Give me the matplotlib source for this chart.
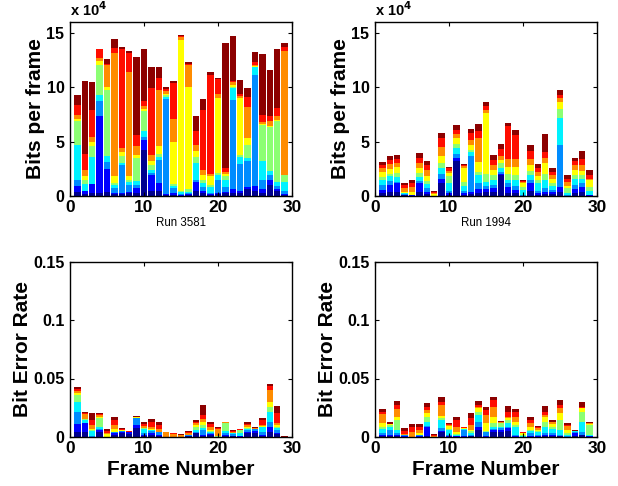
import numpy as np
import matplotlib
matplotlib.use("Agg")
import matplotlib.pyplot as plt

plt.rcParams['font.family'] = ['Liberation Sans', 'DejaVu Sans']
plt.rcParams['mathtext.default'] = 'bf'

frames = list(range(1, 30))
# cumulative tops of the 9 stacked colour levels (navy .. dark red)
# Bits per frame, units of 1e4 bits
run3581_bits_1e4 = [
    [0.4, 0.9, 1.5, 4.7, 6.9, 7.1, 7.4, 8.35, 9.3],
    [0.2, 0.5, 0.5, 1.1, 1.5, 1.8, 2.4, 3.9, 10.55],
    [0.3, 1.1, 1.13, 3.6, 4.6, 5.0, 5.45, 7.9, 10.43],
    [0.3, 7.3, 8.7, 9.3, 12.0, 12.4, 12.7, 13.45, 13.5],
    [0.4, 2.5, 3.1, 3.7, 9.7, 10.0, 12.0, 12.1, 12.6],
    [0.2, 0.3, 0.7, 1.0, 1.2, 1.8, 13.1, 13.6, 14.45],
    [0.2, 0.3, 2.85, 3.0, 3.7, 4.0, 4.4, 13.5, 13.7],
    [0.3, 0.4, 1.0, 1.3, 1.5, 1.8, 11.4, 13.1, 13.3],
    [0.3, 0.7, 1.0, 1.4, 3.5, 3.8, 4.6, 5.6, 12.8],
    [4.2, 5.1, 5.4, 6.0, 7.8, 8.0, 8.3, 8.7, 13.45],
    [0.5, 1.9, 2.1, 2.4, 2.8, 3.2, 3.8, 9.88, 11.8],
    [0.5, 1.2, 3.3, 3.6, 3.9, 4.6, 9.7, 10.85, 11.8],
    [0.1, 0.2, 8.9, 9.1, 9.3, 9.4, 9.6, 9.85, 10.0],
    [0.1, 0.3, 0.7, 0.9, 1.1, 5.0, 7.1, 10.35, 10.6],
    [0.0, 0.05, 0.2, 0.35, 0.5, 14.35, 14.6, 14.65, 14.8],
    [0.1, 0.2, 0.3, 0.4, 0.65, 10.0, 12.0, 12.1, 12.3],
    [0.5, 1.3, 1.5, 3.0, 3.6, 4.1, 4.7, 6.0, 7.3],
    [0.3, 0.45, 0.8, 1.2, 1.5, 1.9, 2.4, 7.9, 8.87],
    [0.1, 0.2, 0.3, 0.8, 1.0, 1.8, 2.0, 11.1, 11.4],
    [0.2, 0.3, 1.5, 1.9, 2.1, 9.0, 9.4, 10.7, 10.85],
    [0.3, 0.4, 0.8, 1.5, 1.8, 2.0, 2.2, 2.55, 14.05],
    [0.3, 0.6, 8.8, 9.9, 10.0, 10.2, 10.5, 10.6, 14.65],
    [0.3, 0.5, 2.9, 3.6, 3.8, 9.0, 9.2, 9.4, 10.64],
    [0.6, 0.8, 3.2, 3.5, 4.7, 5.3, 8.2, 9.1, 9.88],
    [0.5, 0.9, 11.1, 11.8, 11.85, 11.9, 12.0, 12.3, 13.23],
    [0.3, 0.6, 1.5, 3.2, 6.5, 6.6, 6.8, 7.44, 13.0],
    [1.0, 1.5, 1.9, 2.3, 6.3, 6.4, 6.9, 7.3, 11.6],
    [0.5, 0.6, 0.9, 1.3, 6.9, 7.0, 7.3, 8.05, 13.47],
    [0.1, 0.2, 0.5, 1.3, 1.9, 1.95, 13.3, 13.7, 14.0],
]
run1994_bits_1e4 = [
    [0.25, 0.55, 1.0, 1.5, 1.77, 2.2, 2.53, 2.84, 3.14],
    [0.4, 1.0, 1.4, 1.8, 2.0, 2.5, 2.9, 3.3, 3.69],
    [0.4, 1.16, 1.31, 1.77, 2.1, 2.68, 3.0, 3.38, 3.8],
    [0.05, 0.1, 0.15, 0.25, 0.3, 0.35, 0.7, 1.0, 1.22],
    [0.03, 0.07, 0.08, 0.09, 0.1, 0.4, 0.85, 1.16, 1.46],
    [0.4, 1.2, 1.4, 1.7, 2.1, 2.6, 3.0, 3.5, 3.93],
    [0.2, 0.4, 0.7, 1.1, 1.4, 1.8, 2.4, 2.84, 3.23],
    [0.0, 0.0, 0.0, 0.0, 0.02, 0.15, 0.25, 0.35, 0.46],
    [1.16, 1.6, 2.0, 2.6, 3.0, 3.7, 4.5, 5.3, 5.82],
    [0.1, 0.3, 0.5, 1.2, 1.8, 2.1, 2.3, 2.53, 2.68],
    [3.2, 3.5, 3.9, 4.4, 4.8, 5.3, 5.7, 6.1, 6.5],
    [0.1, 0.25, 0.5, 0.9, 1.3, 2.6, 2.75, 2.8, 2.9],
    [0.15, 0.4, 3.7, 4.0, 4.2, 4.66, 5.1, 5.8, 6.13],
    [0.3, 0.6, 1.2, 1.9, 2.2, 3.1, 5.3, 6.0, 6.6],
    [0.35, 0.6, 0.9, 1.3, 2.0, 7.6, 7.9, 8.23, 8.63],
    [0.4, 0.7, 1.0, 1.5, 1.92, 2.4, 2.8, 3.3, 3.75],
    [1.9, 2.0, 2.2, 2.6, 3.0, 3.3, 3.7, 4.3, 4.73],
    [0.3, 0.85, 1.16, 1.5, 2.0, 2.68, 3.44, 6.4, 6.74],
    [0.25, 0.55, 0.9, 1.5, 1.9, 2.7, 3.4, 5.58, 6.04],
    [0.0, 0.02, 0.05, 0.55, 0.85, 1.16, 1.25, 1.35, 1.46],
    [0.5, 1.2, 1.5, 1.9, 2.3, 2.84, 3.44, 4.1, 4.66],
    [0.1, 0.3, 0.5, 1.2, 1.5, 1.8, 2.2, 2.6, 2.93],
    [0.15, 0.4, 0.7, 1.5, 2.0, 3.0, 3.5, 4.05, 5.67],
    [0.2, 0.35, 0.55, 0.9, 1.2, 1.6, 1.9, 2.23, 2.53],
    [0.4, 0.85, 4.7, 7.2, 8.0, 8.63, 9.0, 9.3, 9.76],
    [0.0, 0.02, 0.05, 0.3, 0.7, 0.9, 1.3, 1.6, 1.92],
    [0.3, 0.65, 1.0, 1.6, 1.9, 2.4, 2.8, 3.2, 3.5],
    [0.35, 0.85, 1.2, 1.6, 1.9, 2.3, 2.84, 3.44, 4.14],
    [0.02, 0.05, 0.1, 0.5, 0.85, 1.46, 1.6, 1.92, 2.38],
]
# Bit error rate
run3581_ber = [
    [0.0043, 0.0114, 0.0214, 0.030, 0.0357, 0.038, 0.039, 0.041, 0.0429],
    [0.0043, 0.0117, 0.012, 0.0146, 0.015, 0.0157, 0.020, 0.0205, 0.0214],
    [0.0, 0.0, 0.001, 0.005, 0.006, 0.0071, 0.0100, 0.0146, 0.0209],
    [0.004, 0.006, 0.0065, 0.0089, 0.016, 0.0175, 0.019, 0.020, 0.0209],
    [0.0, 0.0, 0.0, 0.0, 0.0003, 0.0023, 0.0031, 0.0051, 0.0066],
    [0.002, 0.0035, 0.0043, 0.0045, 0.0046, 0.0066, 0.0103, 0.0146, 0.0174],
    [0.003, 0.0046, 0.005, 0.0052, 0.0054, 0.0056, 0.006, 0.0066, 0.0074],
    [0.0025, 0.004, 0.0041, 0.0042, 0.0043, 0.0044, 0.0045, 0.0048, 0.0051],
    [0.0074, 0.0103, 0.0163, 0.0165, 0.0166, 0.0167, 0.0168, 0.017, 0.018],
    [0.0005, 0.0015, 0.0031, 0.0066, 0.0074, 0.008, 0.0095, 0.0111, 0.0126],
    [0.0015, 0.003, 0.0055, 0.006, 0.0063, 0.0066, 0.0089, 0.0131, 0.0151],
    [0.0005, 0.0015, 0.004, 0.0042, 0.0044, 0.0046, 0.0066, 0.0103, 0.0126],
    [0.0, 0.0, 0.0, 0.0, 0.0, 0.0001, 0.004, 0.0044, 0.0046],
    [0.0, 0.0, 0.0, 0.0, 0.0, 0.0001, 0.0028, 0.0032, 0.0034],
    [0.0, 0.0, 0.0, 0.0, 0.0, 0.0001, 0.0018, 0.0021, 0.0023],
    [0.0005, 0.0012, 0.0017, 0.0018, 0.0019, 0.002, 0.0035, 0.0045, 0.0051],
    [0.0031, 0.0035, 0.004, 0.006, 0.0085, 0.0103, 0.0117, 0.013, 0.0146],
    [0.001, 0.002, 0.006, 0.0075, 0.0103, 0.0131, 0.0151, 0.0189, 0.0274],
    [0.0015, 0.0025, 0.003, 0.0045, 0.0055, 0.006, 0.0089, 0.0111, 0.0126],
    [0.0, 0.0, 0.0002, 0.0003, 0.0005, 0.0007, 0.0066, 0.008, 0.0089],
    [0.0005, 0.0015, 0.003, 0.0055, 0.0117, 0.0122, 0.0125, 0.0128, 0.0131],
    [0.0005, 0.001, 0.0025, 0.0031, 0.0035, 0.0037, 0.0044, 0.0052, 0.006],
    [0.0002, 0.0005, 0.001, 0.003, 0.0058, 0.006, 0.0062, 0.0065, 0.0069],
    [0.0031, 0.0045, 0.006, 0.0065, 0.008, 0.0089, 0.0103, 0.0115, 0.0126],
    [0.003, 0.0055, 0.0066, 0.0068, 0.007, 0.0071, 0.0073, 0.0077, 0.0083],
    [0.0008, 0.002, 0.0046, 0.0085, 0.0089, 0.0092, 0.0103, 0.0146, 0.016],
    [0.0046, 0.0089, 0.0131, 0.0217, 0.026, 0.0303, 0.0403, 0.0437, 0.0454],
    [0.0026, 0.0035, 0.006, 0.0074, 0.0089, 0.0103, 0.0117, 0.0203, 0.0266],
    [0.0, 0.0, 0.0, 0.0, 0.0, 0.0, 0.0, 0.0003, 0.0006],
]
run1994_ber = [
    [0.0005, 0.0015, 0.0031, 0.0065, 0.0085, 0.0117, 0.020, 0.0211, 0.024],
    [0.0005, 0.0015, 0.006, 0.0085, 0.0105, 0.0108, 0.011, 0.0111, 0.0126],
    [0.0005, 0.0017, 0.003, 0.006, 0.0146, 0.017, 0.024, 0.0274, 0.0309],
    [0.0002, 0.0005, 0.0017, 0.0018, 0.0019, 0.002, 0.0025, 0.0054, 0.0074],
    [0.0, 0.0, 0.0, 0.0, 0.0001, 0.0002, 0.0046, 0.0083, 0.0111],
    [0.0002, 0.0005, 0.0017, 0.0019, 0.002, 0.0031, 0.006, 0.0089, 0.0111],
    [0.001, 0.0083, 0.009, 0.0131, 0.0174, 0.0203, 0.023, 0.026, 0.0289],
    [0.0, 0.0, 0.0, 0.0, 0.0, 0.0, 0.0005, 0.0013, 0.0023],
    [0.0046, 0.0055, 0.0075, 0.0146, 0.016, 0.018, 0.0274, 0.0303, 0.0346],
    [0.0003, 0.0008, 0.0017, 0.006, 0.007, 0.0098, 0.0103, 0.011, 0.0117],
    [0.0002, 0.0005, 0.001, 0.0017, 0.0025, 0.0046, 0.0089, 0.0146, 0.0174],
    [0.0003, 0.001, 0.006, 0.0065, 0.007, 0.0074, 0.0078, 0.0083, 0.0089],
    [0.0005, 0.001, 0.002, 0.0031, 0.005, 0.006, 0.0103, 0.016, 0.0203],
    [0.006, 0.0089, 0.0131, 0.0189, 0.0217, 0.0246, 0.026, 0.0274, 0.0309],
    [0.0003, 0.001, 0.004, 0.0046, 0.005, 0.0117, 0.019, 0.0235, 0.026],
    [0.0045, 0.006, 0.0065, 0.0089, 0.0117, 0.0174, 0.026, 0.0317, 0.034],
    [0.004, 0.006, 0.0075, 0.0089, 0.0117, 0.0123, 0.0128, 0.0132, 0.0137],
    [0.005, 0.0074, 0.0089, 0.0117, 0.0146, 0.016, 0.0174, 0.0217, 0.0266],
    [0.0003, 0.0008, 0.0015, 0.0089, 0.01, 0.0131, 0.0174, 0.0217, 0.024],
    [0.0, 0.0, 0.0002, 0.0005, 0.002, 0.0031, 0.0035, 0.0039, 0.0043],
    [0.0003, 0.001, 0.0031, 0.0055, 0.0062, 0.0089, 0.0117, 0.0146, 0.0174],
    [0.0002, 0.0008, 0.0017, 0.004, 0.0052, 0.006, 0.0075, 0.0085, 0.0094],
    [0.0005, 0.0015, 0.0031, 0.0089, 0.0131, 0.0174, 0.019, 0.0217, 0.0269],
    [0.0005, 0.0015, 0.0031, 0.0065, 0.0089, 0.011, 0.0125, 0.0131, 0.0146],
    [0.0005, 0.0012, 0.0017, 0.006, 0.0146, 0.0203, 0.0246, 0.0274, 0.0317],
    [0.0, 0.0002, 0.0005, 0.0017, 0.003, 0.006, 0.0095, 0.0103, 0.0123],
    [0.001, 0.0035, 0.0046, 0.0048, 0.005, 0.0052, 0.0054, 0.0055, 0.006],
    [0.0017, 0.002, 0.0046, 0.0131, 0.0217, 0.0246, 0.0252, 0.0256, 0.0303],
    [0.0002, 0.0005, 0.0012, 0.0017, 0.0105, 0.0111, 0.0117, 0.0123, 0.0131],
]

bits_ticks = [0, 5, 10, 15]
ber_ticks = [0, 0.05, 0.1, 0.15]
ber_ticklabels = ['0', '0.05', '0.1', '0.15']
x_ticks = [0, 10, 20, 30]
run_labels = ['Run 3581', 'Run 1994']

W, H = 618, 486
fig = plt.figure(figsize=(W / 100, H / 100), dpi=100)
# MATLAB-style jet levels: navy, blue, azure, cyan, light green, yellow, orange, red, dark red
colors = [(0.0, 0.0, 0.56), (0.0, 0.0, 1.0), (0.0, 0.55, 1.0), (0.0, 0.95, 1.0),
          (0.55, 1.0, 0.45), (1.0, 1.0, 0.0), (1.0, 0.55, 0.0), (1.0, 0.05, 0.0),
          (0.55, 0.0, 0.0)]

lefts = [70 / W, 375 / W]
aw = 222 / W
top_b, top_h = (H - 196) / H, (196 - 21.7) / H
bot_b, bot_h = (H - 437) / H, (437 - 261.5) / H


def stacked(ax, cum):
    cum = np.maximum.accumulate(np.asarray(cum, dtype=float), axis=1)
    base = np.hstack([np.zeros((cum.shape[0], 1)), cum[:, :-1]])
    heights = cum - base
    for j in range(cum.shape[1]):
        ax.bar(frames, heights[:, j], bottom=base[:, j], width=0.88,
               color=colors[j], linewidth=0)


def style(ax):
    ax.set_xlim(0, 30)
    ax.set_xticks(x_ticks)
    ax.tick_params(direction='in', length=3, width=0.8, top=True, right=True,
                   labelsize=11.5, pad=4)
    ax.tick_params(axis='x', labelsize=12.5, pad=3)
    for lab in ax.get_xticklabels() + ax.get_yticklabels():
        lab.set_fontweight('bold')
    for s in ax.spines.values():
        s.set_linewidth(1.0)


bits_data = [run3581_bits_1e4, run1994_bits_1e4]
ber_data = [run3581_ber, run1994_ber]
for i in range(2):
    ax = fig.add_axes([lefts[i], top_b, aw, top_h])
    stacked(ax, bits_data[i])
    ax.set_ylim(0, 16)
    ax.set_yticks(bits_ticks)
    ax.set_yticklabels([str(t) for t in bits_ticks])
    style(ax)
    ax.set_ylabel('Bits per frame', fontsize=15, fontweight='bold')
    ax.yaxis.set_label_coords(-0.112, 0.5)
    ax.set_xlabel(run_labels[i], fontsize=8.3, labelpad=1)
    ax.text(0.0, 1.03, r'x 10$^{4}$', transform=ax.transAxes, ha='left',
            va='baseline', fontsize=10.5, fontweight='bold')

    ax2 = fig.add_axes([lefts[i], bot_b, aw, bot_h])
    stacked(ax2, ber_data[i])
    ax2.set_ylim(0, 0.15)
    ax2.set_yticks(ber_ticks)
    ax2.set_yticklabels(ber_ticklabels)
    style(ax2)
    ax2.set_ylabel('Bit Error Rate', fontsize=15, fontweight='bold')
    ax2.yaxis.set_label_coords(-0.17, 0.5)
    ax2.set_xlabel('Frame Number', fontsize=15, fontweight='bold', labelpad=3)

fig.savefig('out.png', dpi=100)
